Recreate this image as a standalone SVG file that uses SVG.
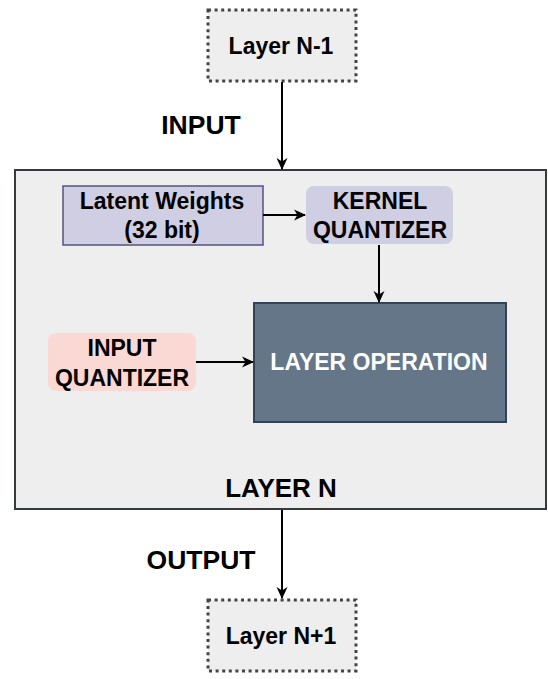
<svg xmlns="http://www.w3.org/2000/svg" width="548" height="679" viewBox="0 0 548 679">
<style>
text{font-family:"Liberation Sans",Arial,sans-serif;font-weight:bold;text-anchor:middle;dominant-baseline:central;fill:#000}
.dot{fill:#eeeeee;stroke:#444;stroke-width:3;stroke-dasharray:3 3.6}
.conn{stroke:#000;stroke-width:2;fill:none;marker-end:url(#ah)}
</style>
<defs>
<marker id="ah" markerWidth="12" markerHeight="12" refX="11" refY="6" orient="auto" markerUnits="userSpaceOnUse">
<path d="M0,0.5 L12,6 L0,11.5 L3.5,6 Z" fill="#000"/>
</marker>
</defs>
<rect width="548" height="679" fill="#fff"/>
<g id="layerN">
<rect x="15" y="170" width="531" height="339" fill="#eeeeee" stroke="#36393d" stroke-width="2"/>
<text x="281" y="488" font-size="26">LAYER N</text>
</g>
<g id="layerNm1">
<rect class="dot" x="208" y="10" width="148" height="71"/>
<text x="281" y="46" font-size="23">Layer N-1</text>
</g>
<g id="latent">
<rect x="63" y="186" width="200" height="59" fill="#d0cee2" stroke="#56517e" stroke-width="1.5"/>
<text x="162" y="201" font-size="23">Latent Weights</text>
<text x="162" y="230" font-size="23">(32 bit)</text>
</g>
<g id="kernelq">
<rect x="306" y="186" width="147" height="58" rx="8" fill="#d0cee2"/>
<text x="380" y="201" font-size="23">KERNEL</text>
<text x="380" y="230" font-size="23">QUANTIZER</text>
</g>
<g id="inputq">
<rect x="48" y="333" width="148" height="58" rx="8" fill="#fad9d5"/>
<text x="122" y="348" font-size="23">INPUT</text>
<text x="122" y="378" font-size="23">QUANTIZER</text>
</g>
<g id="layerop">
<rect x="254" y="303" width="252" height="119" fill="#647687" stroke="#314354" stroke-width="2"/>
<text x="379" y="362" font-size="23" style="fill:#fff">LAYER OPERATION</text>
</g>
<g id="layerNp1">
<rect class="dot" x="208" y="600" width="148" height="71"/>
<text x="281" y="636" font-size="23">Layer N+1</text>
</g>
<g id="labels">
<text x="201" y="125" font-size="26.5">INPUT</text>
<text x="201" y="560" font-size="26.5">OUTPUT</text>
</g>
<g id="connectors">
<path class="conn" d="M282,82 L282,169"/>
<path class="conn" d="M263,215 L305,215"/>
<path class="conn" d="M379,245 L379,302"/>
<path class="conn" d="M196,362 L253,362"/>
<path class="conn" d="M282,510 L282,598"/>
</g>
</svg>
